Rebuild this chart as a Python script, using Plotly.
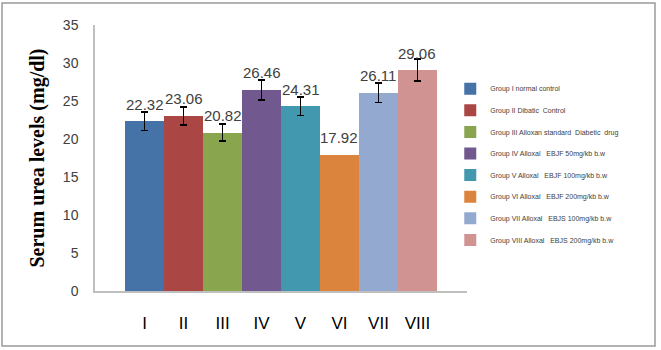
import plotly.graph_objects as go

groups = ["I", "II", "III", "IV", "V", "VI", "VII", "VIII"]
values = [22.32, 23.06, 20.82, 26.46, 24.31, 17.92, 26.11, 29.06]
errors = [1.2, 1.17, 1.12, 1.32, 1.23, 0, 1.3, 1.45]
legend_names = [
    "Group I normal control",
    "Group II Dibatic  Control",
    "Group III Alloxan standard  Diabetic  drug",
    "Group IV Alloxal   EBJF 50mg/kb b.w",
    "Group V Alloxal   EBJF 100mg/kb b.w",
    "Group VI Alloxal   EBJF 200mg/kb b.w",
    "Group VII Alloxal   EBJS 100mg/kb b.w",
    "Group VIII Alloxal   EBJS 200mg/kb b.w",
]
colors = ["#4572A7", "#AA4643", "#89A54E", "#71588F", "#4198AF", "#DB843D", "#93A9CF", "#D19392"]

W, H = 661, 350
L, R, T, B = 95, 194, 25, 59

fig = go.Figure()
for g, v, e, n, c in zip(groups, values, errors, legend_names, colors):
    fig.add_trace(go.Bar(
        x=[g], y=[v], name=n, legendgroup=n,
        marker=dict(color=c, line=dict(width=0)),
        width=1.0,
        error_y=dict(type="data", array=[e], visible=e > 0, color="black", thickness=1.8, width=3.5),
    ))
    fig.add_annotation(
        x=g, y=v, text=f"{v:.2f}", showarrow=False, yshift=17, yanchor="middle",
        font=dict(family="Liberation Sans", size=15, color="#404040"),
    )

fig.update_layout(
    width=W, height=H,
    margin=dict(l=L, r=R, t=T, b=B),
    barmode="overlay",
    bargap=0,
    plot_bgcolor="white", paper_bgcolor="white",
    showlegend=True,
    legend=dict(
        x=0.955, xanchor="left", y=0.815, yanchor="top",
        font=dict(family="Liberation Sans", size=7, color="#404040"),
        tracegroupgap=2.6,
        bgcolor="rgba(0,0,0,0)",
    ),
    xaxis=dict(
        range=[-1.27, 8.27], showline=True, linecolor="#BFBFBF", linewidth=1.5,
        showgrid=False, zeroline=False, ticks="",
        tickfont=dict(family="Liberation Sans", size=17, color="black"),
        ticklabelstandoff=16,
    ),
    yaxis=dict(
        range=[0, 35], dtick=5, showline=True, linecolor="#BFBFBF", linewidth=1.5,
        showgrid=False, zeroline=False, ticks="",
        tickfont=dict(family="Liberation Sans", size=14, color="#404040"),
        ticklabelstandoff=12,
        title=dict(text="<b>Serum urea levels (mg/dl)</b>",
                   font=dict(family="Liberation Serif", size=20, color="black"),
                   standoff=13),
    ),
    shapes=[dict(
        type="rect", xref="paper", yref="paper",
        x0=(2 - L) / 372, x1=(655 - L) / 372,
        y0=(291 - 346) / 266, y1=(291 - 3) / 266,
        line=dict(color="#9A9A9A", width=1.5), fillcolor="rgba(0,0,0,0)", layer="below",
    )],
)

fig.write_html("out.html")
